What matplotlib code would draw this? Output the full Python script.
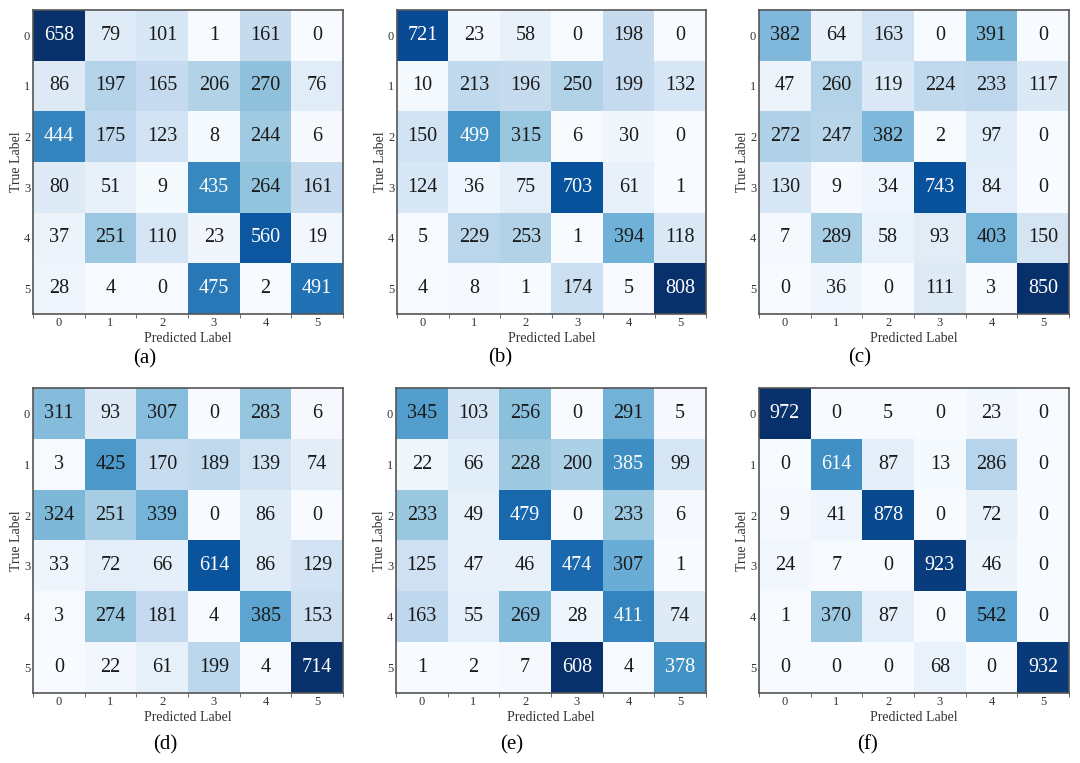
import numpy as np
import matplotlib.pyplot as plt

plt.rcParams['font.family'] = ['Liberation Serif', 'DejaVu Serif']

# confusion matrices, rows = true label, cols = predicted label
cm_a = [[658, 79, 101, 1, 161, 0],
        [86, 197, 165, 206, 270, 76],
        [444, 175, 123, 8, 244, 6],
        [80, 51, 9, 435, 264, 161],
        [37, 251, 110, 23, 560, 19],
        [28, 4, 0, 475, 2, 491]]
cm_b = [[721, 23, 58, 0, 198, 0],
        [10, 213, 196, 250, 199, 132],
        [150, 499, 315, 6, 30, 0],
        [124, 36, 75, 703, 61, 1],
        [5, 229, 253, 1, 394, 118],
        [4, 8, 1, 174, 5, 808]]
cm_c = [[382, 64, 163, 0, 391, 0],
        [47, 260, 119, 224, 233, 117],
        [272, 247, 382, 2, 97, 0],
        [130, 9, 34, 743, 84, 0],
        [7, 289, 58, 93, 403, 150],
        [0, 36, 0, 111, 3, 850]]
cm_d = [[311, 93, 307, 0, 283, 6],
        [3, 425, 170, 189, 139, 74],
        [324, 251, 339, 0, 86, 0],
        [33, 72, 66, 614, 86, 129],
        [3, 274, 181, 4, 385, 153],
        [0, 22, 61, 199, 4, 714]]
cm_e = [[345, 103, 256, 0, 291, 5],
        [22, 66, 228, 200, 385, 99],
        [233, 49, 479, 0, 233, 6],
        [125, 47, 46, 474, 307, 1],
        [163, 55, 269, 28, 411, 74],
        [1, 2, 7, 608, 4, 378]]
cm_f = [[972, 0, 5, 0, 23, 0],
        [0, 614, 87, 13, 286, 0],
        [9, 41, 878, 0, 72, 0],
        [24, 7, 0, 923, 46, 0],
        [1, 370, 87, 0, 542, 0],
        [0, 0, 0, 68, 0, 932]]
matrices = [cm_a, cm_b, cm_c, cm_d, cm_e, cm_f]
captions = ['(a)', '(b)', '(c)', '(d)', '(e)', '(f)']
class_labels = ['0', '1', '2', '3', '4', '5']

W, H = 1080, 763
fig = plt.figure(figsize=(W / 100, H / 100), dpi=100)

# axes boxes in pixels: left, top, right, bottom
boxes = [(33, 10, 343, 314), (397, 10, 706, 314), (759, 10, 1069, 314),
         (33, 388, 343, 693), (396, 388, 706, 693), (759, 388, 1069, 693)]
cap_pos = [(145, 359), (500, 358), (860, 358), (165, 745), (512, 745), (868, 745)]

for cm, cap, box, cp in zip(matrices, captions, boxes, cap_pos):
    cm = np.array(cm)
    l, t, r, b = box
    ax = fig.add_axes([l / W, 1 - b / H, (r - l) / W, (b - t) / H])
    vmax = cm.max()
    ax.imshow(cm, cmap='Blues', vmin=0, vmax=vmax, aspect='auto',
              interpolation='nearest')
    for i in range(cm.shape[0]):
        for j in range(cm.shape[1]):
            col = 'white' if cm[i, j] > 0.6 * vmax else '#1a1a1a'
            ax.text(j, i, str(cm[i, j]), ha='center', va='center',
                    fontsize=14.5, color=col)
    ax.set_xticks(range(6))
    ax.set_yticks(range(6))
    ax.set_xticklabels(class_labels, fontsize=9, color='#333333')
    ax.set_yticklabels(class_labels, fontsize=9, color='#333333')
    ax.set_xticks(np.arange(-0.5, 6, 1), minor=True)
    ax.tick_params(which='major', length=0, pad=2)
    ax.tick_params(which='minor', axis='x', length=3, color='#555555')
    ax.tick_params(which='minor', axis='y', length=0)
    ax.set_xlabel('Predicted Label', fontsize=10, color='#333333', labelpad=2)
    ax.set_ylabel('True Label', fontsize=10, color='#333333', labelpad=1)
    for s in ax.spines.values():
        s.set_color('#555555')
        s.set_linewidth(1.2)
    fig.text(cp[0] / W, 1 - cp[1] / H, cap, ha='center', va='center',
             fontsize=15)

fig.savefig('out.png', dpi=100)
